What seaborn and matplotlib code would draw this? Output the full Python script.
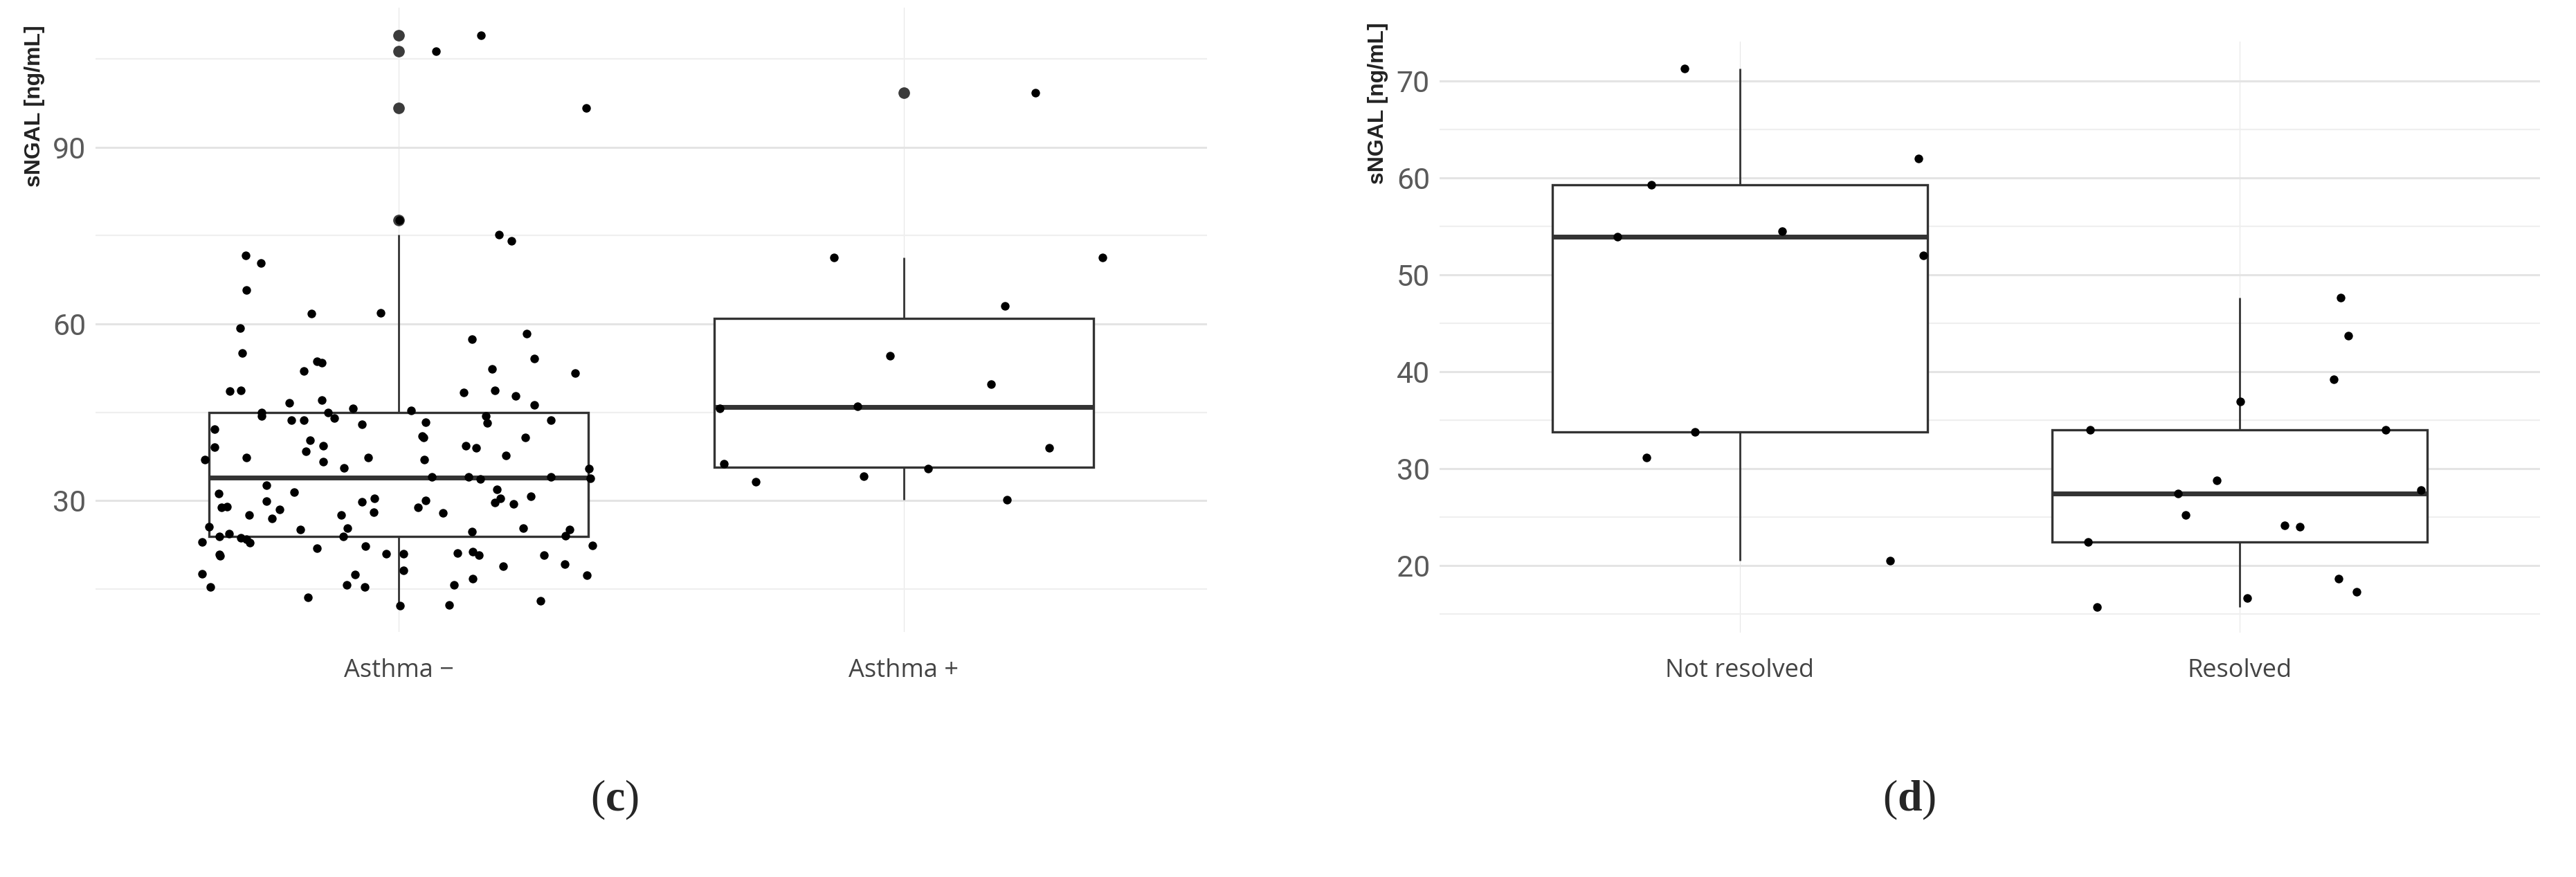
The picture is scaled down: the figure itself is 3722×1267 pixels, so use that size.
import numpy as np
import pandas as pd
import matplotlib.pyplot as plt
from matplotlib import font_manager
from matplotlib.ticker import FixedLocator
import seaborn as sns

# (c) sNGAL by asthma status
asthma_groups = ['Asthma \u2212', 'Asthma +']
asthma_neg = [106.4, 109.0, 96.7, 77.6, 75.2, 74.1, 71.6, 70.3, 65.8, 61.8,
              61.9, 59.3, 57.4, 58.3, 55.0, 54.1, 53.6, 53.4, 52.0, 52.4,
              51.6, 48.6, 48.7, 48.4, 48.7, 46.6, 47.1, 45.7, 47.8, 46.2,
              45.3, 44.9, 44.3, 43.7, 43.7, 44.9, 44.0, 43.0, 42.1, 43.3,
              44.3, 43.2, 43.7, 39.1, 36.9, 37.3, 40.2, 38.4, 39.3, 36.6,
              35.5, 37.3, 41.0, 40.7, 40.7, 39.3, 39.0, 37.7, 37.0, 35.4,
              34.0, 34.0, 33.7, 34.0, 33.8, 32.6, 31.2, 31.4, 29.9, 28.8,
              28.9, 27.5, 28.5, 27.0, 29.8, 30.3, 28.0, 27.5, 25.5, 25.1,
              25.3, 23.9, 24.3, 23.6, 23.4, 22.8, 23.9, 22.9, 21.9, 22.2,
              20.9, 20.8, 20.6, 21.0, 18.1, 17.5, 17.4, 15.3, 15.6, 15.3,
              13.5, 12.1, 31.9, 30.4, 29.6, 30.0, 28.8, 27.9, 29.4, 30.7,
              24.7, 25.3, 25.1, 24.0, 22.3, 21.1, 21.3, 20.7, 20.7, 19.2,
              18.8, 17.3, 16.7, 15.7, 12.9, 12.2]
# horizontal jitter of each point (category units)
asthma_neg_jitter = [0.074, 0.163, 0.371, 0.002, 0.198, 0.223, -0.303, -0.272, -0.301, -0.173,
                     -0.036, -0.314, 0.145, 0.254, -0.309, 0.269, -0.161, -0.152, -0.187, 0.185,
                     0.350, -0.334, -0.313, 0.129, 0.191, -0.216, -0.152, -0.091, 0.232, 0.269,
                     0.024, -0.271, -0.271, -0.213, -0.187, -0.140, -0.128, -0.072, -0.364, 0.054,
                     0.172, 0.176, 0.301, -0.365, -0.383, -0.301, -0.176, -0.184, -0.149, -0.149,
                     -0.108, -0.060, 0.047, 0.050, 0.251, 0.133, 0.153, 0.213, 0.051, 0.377,
                     0.066, 0.138, 0.162, 0.301, 0.380, -0.261, -0.356, -0.207, -0.261, -0.350,
                     -0.340, -0.296, -0.236, -0.250, -0.072, -0.048, -0.049, -0.114, -0.376, -0.194,
                     -0.101, -0.355, -0.336, -0.312, -0.302, -0.295, -0.110, -0.389, -0.162, -0.066,
                     -0.025, -0.355, -0.353, 0.010, 0.010, -0.389, -0.086, -0.372, -0.103, -0.067,
                     -0.179, 0.003, 0.194, 0.201, 0.191, 0.054, 0.039, 0.088, 0.227, 0.262,
                     0.145, 0.247, 0.339, 0.330, 0.384, 0.116, 0.147, 0.159, 0.288, 0.329,
                     0.207, 0.373, 0.147, 0.110, 0.281, 0.100]
asthma_pos = [99.3, 71.3, 71.3, 63.1, 54.6, 49.8, 45.7, 46.0, 38.9, 36.2, 35.4, 34.1, 33.2, 30.1]
asthma_pos_jitter = [0.260, -0.138, 0.393, 0.200, -0.027, 0.173, -0.365, -0.092, 0.288, -0.356,
                     0.048, -0.079, -0.293, 0.204]

# (d) sNGAL by resolution
resolve_groups = ['Not resolved', 'Resolved']
not_resolved = [71.3, 62.0, 59.3, 54.5, 53.9, 52.0, 33.8, 31.1, 20.5]
not_resolved_jitter = [-0.110, 0.358, -0.177, 0.085, -0.245, 0.367, -0.090, -0.186, 0.301]
resolved = [47.6, 43.7, 39.2, 36.9, 34.0, 34.0, 28.8, 27.8, 27.4, 25.2, 24.1, 24.0, 22.4,
            18.6, 17.3, 16.6, 15.7]
resolved_jitter = [0.202, 0.217, 0.188, 0.001, -0.300, 0.292, -0.046, 0.362, -0.123, -0.109,
                   0.090, 0.120, -0.304, 0.198, 0.234, 0.015, -0.286]

y_label = 'sNGAL [ng/mL]'

sns.set_style('white')
plt.rcParams['mathtext.fontset'] = 'custom'
plt.rcParams['mathtext.rm'] = 'Liberation Serif'
plt.rcParams['mathtext.bf'] = 'Liberation Serif:bold'

LINE = '#333333'
XLAB_FONT = ['Open Sans', 'DejaVu Sans']


def pick_font(names):
    # first narrow-ish family that is really installed
    for n in names:
        try:
            font_manager.findfont(n, fallback_to_default=False)
            return n
        except ValueError:
            pass
    return 'DejaVu Sans'


TICK_FONT = pick_font(['Liberation Sans Narrow', 'DejaVu Sans Condensed', 'Roboto'])


def draw_panel(ax, groups, values, jitters, ylim, major, minor, lab_xy):
    df = pd.DataFrame({
        'group': np.repeat(groups, [len(v) for v in values]),
        'sngal': np.concatenate(values),
    })
    sns.boxplot(data=df, x='group', y='sngal', order=groups, ax=ax,
                width=0.75, color='white', saturation=1, linecolor=LINE,
                linewidth=2.4, showcaps=False, whis=1.5,
                medianprops={'linewidth': 5.0, 'color': LINE},
                whiskerprops={'linewidth': 2.0, 'color': LINE},
                flierprops={'marker': 'o', 'markersize': 11,
                            'markerfacecolor': '#3b3b3b',
                            'markeredgecolor': '#3b3b3b'},
                zorder=2)
    for i, (vals, jit) in enumerate(zip(values, jitters)):
        sns.scatterplot(x=i + np.array(jit), y=vals, ax=ax, color='black',
                        s=80, linewidth=0, zorder=4)

    ax.set_xlim(-0.6, 1.6)
    ax.set_ylim(*ylim)
    ax.set_xticks(range(len(groups)))
    ax.set_xticklabels(groups, family=XLAB_FONT, fontsize=26, color='#444444')
    ax.yaxis.set_major_locator(FixedLocator(major))
    ax.yaxis.set_minor_locator(FixedLocator(minor))
    ax.set_yticklabels([str(t) for t in major], family=TICK_FONT, fontsize=31,
                       color='#5a5a5a')
    ax.set_axisbelow(True)
    ax.grid(which='major', axis='y', color='#e4e4e4', linewidth=2.2)
    ax.grid(which='minor', axis='y', color='#efefef', linewidth=1.6)
    ax.grid(which='major', axis='x', color='#e8e8e8', linewidth=0.9)
    ax.tick_params(axis='both', which='both', length=0)
    ax.tick_params(axis='y', pad=10)
    ax.tick_params(axis='x', pad=27)
    for s in ax.spines.values():
        s.set_visible(False)
    ax.set_xlabel('')
    ax.set_ylabel(y_label, family=['Liberation Sans', 'DejaVu Sans'],
                  fontsize=23, fontweight='bold', color='#222222',
                  ha='right', va='center')
    ax.yaxis.set_label_coords(*lab_xy)


fig = plt.figure(figsize=(37.23, 12.67), dpi=100)
fig.patch.set_facecolor('white')

ax_c = fig.add_axes([138 / 3723, 354 / 1267, 1606 / 3723, 902 / 1267])
draw_panel(ax_c, asthma_groups, [asthma_neg, asthma_pos],
           [asthma_neg_jitter, asthma_pos_jitter],
           (7.65, 113.76), [30, 60, 90], [15, 45, 75, 105], (-0.055, 0.972))

ax_d = fig.add_axes([2080 / 3723, 353 / 1267, 1590 / 3723, 854 / 1267])
draw_panel(ax_d, resolve_groups, [not_resolved, resolved],
           [not_resolved_jitter, resolved_jitter],
           (13.05, 74.05), [20, 30, 40, 50, 60, 70], [15, 25, 35, 45, 55, 65],
           (-0.056, 1.032))

fig.text(888 / 3723, 1 - 1156 / 1267, r'($\mathbf{c}$)', ha='center', va='center',
         fontsize=46, family='Liberation Serif')
fig.text(2759 / 3723, 1 - 1156 / 1267, r'($\mathbf{d}$)', ha='center', va='center',
         fontsize=46, family='Liberation Serif')

fig.savefig('out.png', dpi=100, facecolor='white')
